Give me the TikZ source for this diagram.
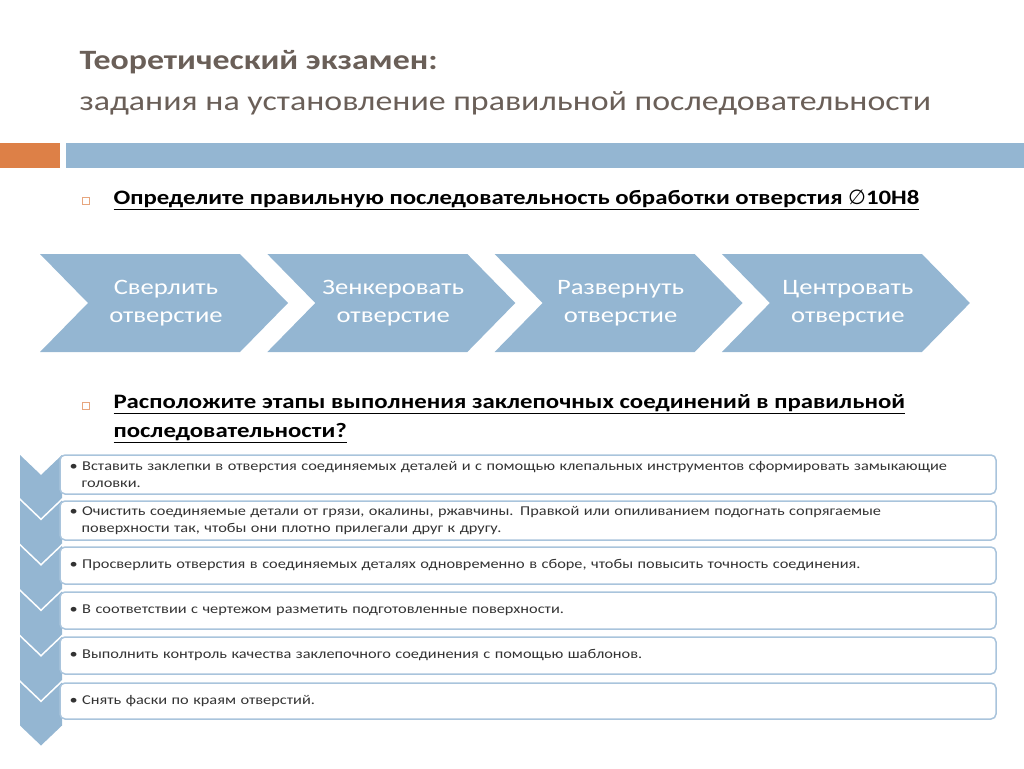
\documentclass[tikz,border=0pt]{standalone}
\usepackage{fontspec}
\setmainfont{Carlito}[FakeStretch=1.21]
\newfontfamily\djv{DejaVu Sans}
\definecolor{ttl}{HTML}{6A5F58}
\definecolor{bl}{HTML}{94B6D2}
\definecolor{bd}{HTML}{A9C4DC}
\definecolor{org}{HTML}{DD8047}
\definecolor{txt}{HTML}{333333}
\tikzset{chev/.style={fill=bl,draw=none},
 chevtxt/.style={text=white,font=\fontsize{22}{28}\selectfont,align=center},
 row/.style={draw=bd,line width=1.5pt,rounded corners=5pt,fill=white},
 rowtxt/.style={anchor=west,text=txt,font=\fontsize{13.5}{17}\selectfont,align=left,text width=925pt},
 qbox/.style={draw=org!70,line width=0.6pt,minimum size=7pt,inner sep=0pt},
 qtxt/.style={anchor=west,font=\bfseries\fontsize{20.5}{29}\selectfont,align=left,text=black}}
\begin{document}
\begin{tikzpicture}[x=1pt,y=-1pt]
\useasboundingbox (0,0) rectangle (1024,768);
\node[anchor=west,text=ttl,font=\bfseries\fontsize{28}{32}\selectfont] (t1) at (76,62) {Теоретический экзамен:};
\node[anchor=west,text=ttl,font=\fontsize{28}{32}\selectfont] (t2) at (76,103) {задания на установление правильной последовательности};
\fill[org] (0,143) rectangle (60,168);
\fill[bl] (66,143) rectangle (1024,168);
\node[qbox] (q1) at (86,201) {};
\node[qtxt] (q1t) at (110,200) {\underline{Определите правильную последовательность обработки отверстия {\djv\mdseries ∅}10H8}};
\foreach \i/\a/\b in {0/Сверлить/отверстие,1/Зенкеровать/отверстие,2/Развернуть/отверстие,3/Центровать/отверстие}{
 \pgfmathsetmacro{\xx}{40+227.3*\i}
 \fill[chev] (\xx,254) -- (\xx+200,254) -- (\xx+248,303) -- (\xx+200,352) -- (\xx,352) -- (\xx+48,303) -- cycle;
 \node[chevtxt] (c\i) at (\xx+126,303) {\a\\\b};
}
\node[qbox] (q2) at (86,406) {};
\node[qtxt] (q2t) at (110,419) {\underline{Расположите этапы выполнения заклепочных соединений в правильной}\\\underline{последовательности?}};
\foreach \i in {0,...,5}{
 \pgfmathsetmacro{\yy}{455+45.5*\i}
 \fill[chev] (20,\yy) -- (41,\yy+20) -- (62,\yy) -- (62,\yy+43) -- (41,\yy+63) -- (20,\yy+43) -- cycle;
}
\foreach \i/\t/\b in {0/455/494,1/501/540,2/547/584,3/592/629,4/637/674,5/683/719}{
 \draw[row] (60,\t) rectangle (996,\b);
}
\node[rowtxt] (r0) at (66,474.5) {• Вставить заклепки в отверстия соединяемых деталей и с помощью клепальных инструментов сформировать замыкающие\\\hspace{0.9em}головки.};
\node[rowtxt] (r1) at (66,520.5) {• Очистить соединяемые детали от грязи, окалины, ржавчины. Правкой или опиливанием подогнать сопрягаемые\\\hspace{0.9em}поверхности так, чтобы они плотно прилегали друг к другу.};
\node[rowtxt] (r2) at (66,565.5) {• Просверлить отверстия в соединяемых деталях одновременно в сборе, чтобы повысить точность соединения.};
\node[rowtxt] (r3) at (66,610.5) {• В соответствии с чертежом разметить подготовленные поверхности.};
\node[rowtxt] (r4) at (66,655.5) {• Выполнить контроль качества заклепочного соединения с помощью шаблонов.};
\node[rowtxt] (r5) at (66,701) {• Снять фаски по краям отверстий.};
\end{tikzpicture}
\end{document}
